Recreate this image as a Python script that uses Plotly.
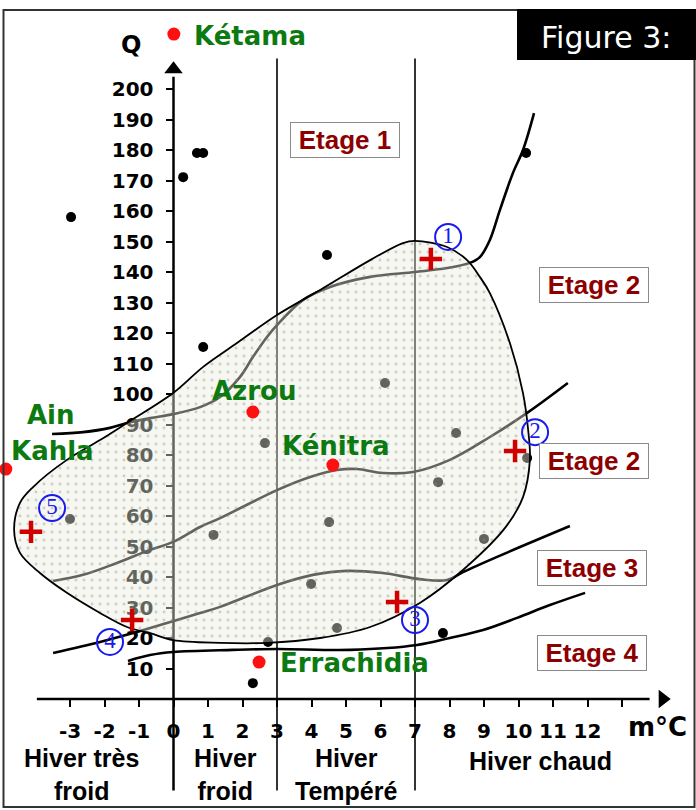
import plotly.graph_objects as go

# ---------------- data ----------------
x_tickvals = list(range(-3, 14))
x_ticktext = [str(v) for v in range(-3, 13)] + [""]
y_tickvals = list(range(10, 201, 10))

# envelope of the stations (closed curve)
env_m = [-4.62, -4.45, -4.07, -3.09, -2.13, -1.35, -0.01, 0.86, 1.84, 3.0, 4.25, 5.70, 6.65, 7.0,
         7.93, 8.51, 8.88, 9.17, 9.75, 10.13, 10.28, 10.33, 10.13, 9.61, 8.39, 7.14, 5.70, 4.25,
         2.71, 1.35, -0.01, -0.68, -1.35, -2.13, -3.09, -3.87, -4.45, -4.62]
env_q = [55.4, 64.3, 69.5, 78.4, 84.9, 90.5, 100.3, 108.9, 116.7, 125.9, 134.1, 143.9, 149.5, 150.2,
         148.2, 143.9, 138.4, 133.1, 116.7, 100.3, 88.2, 78.4, 66.2, 56.1, 42.3, 31.5, 23.6, 20.0,
         18.4, 18.4, 19.3, 21.6, 23.6, 28.2, 34.8, 41.3, 47.9, 55.4]

# boundary Etage 1 / Etage 2
lineA_m = [-3.52, -2.62, -1.84, -1.35, -0.68, -0.01, 0.77, 1.35, 1.93, 2.30, 2.71, 3.0, 3.75, 4.54,
           5.70, 7.0, 7.93, 8.59, 8.88, 9.17, 9.46, 9.84, 10.13, 10.45]
lineA_q = [86.9, 87.5, 88.9, 90.5, 92.1, 93.4, 95.7, 99.0, 105.6, 112.1, 118.7, 122.6, 130.8, 135.1,
           138.4, 140.0, 141.3, 143.0, 144.9, 150.5, 160.3, 172.5, 180.0, 192.1]
# line inside Etage 2
lineB_m = [-3.49, -2.62, -1.64, -0.68, -0.01, 0.77, 1.35, 3.0, 3.96, 4.74, 5.32, 6.07, 6.94, 8.01,
           9.17, 10.25, 11.43]
lineB_q = [38.7, 40.7, 44.6, 48.9, 51.5, 56.4, 59.3, 68.5, 72.8, 75.1, 75.4, 74.1, 74.4, 78.4,
           85.9, 93.8, 103.6]
# boundary Etage 2 / Etage 3
lineC_m = [-3.49, -2.13, -1.17, -0.19, 0.77, 1.35, 3.0, 4.04, 5.03, 6.07, 7.14, 7.93, 8.39, 9.38, 11.49]
lineC_q = [15.1, 18.7, 21.6, 24.9, 28.2, 30.2, 37.4, 40.7, 42.0, 41.3, 39.3, 39.0, 41.6, 46.6, 56.7]
# boundary Etage 3 / Etage 4
lineD_m = [-1.32, -0.68, -0.01, 1.72, 3.0, 5.12, 7.06, 8.01, 8.97, 9.96, 10.91, 11.93]
lineD_q = [12.5, 14.4, 15.4, 16.1, 16.4, 16.1, 17.7, 20.0, 22.6, 26.6, 30.8, 34.8]

# other stations (black dots)
dots_m = [-2.97, 0.28, 0.68, 0.86, 0.86, 4.45, 10.22, 7.81, 2.30,
          -3.0, 2.65, 6.13, 1.16, 4.51, 3.99, 4.74, 2.74, 8.19, 7.67, 9.0, 10.25]
dots_q = [158.0, 171.1, 179.0, 179.0, 115.4, 145.6, 179.0, 21.6, 5.2,
          59.0, 83.9, 103.6, 53.8, 58.0, 37.7, 23.3, 18.7, 87.2, 71.1, 52.5, 79.0]

# named stations (red)
station_names = ["Kétama", "Azrou", "Kénitra", "Errachidia", "Ain Kahla"]
station_m = [0.01, 2.30, 4.62, 2.48, -4.86]
station_q = [218.0, 94.1, 76.7, 12.1, 75.4]

# red crosses
cross_m = [7.46, 9.90, 6.48, -1.20, -4.13]
cross_q = [144.3, 81.3, 31.8, 25.9, 54.8]

# circled numbers
num_labels = ["1", "2", "3", "4", "5"]
num_m = [7.96, 10.48, 7.0, -1.84, -3.52]
num_q = [151.5, 87.5, 25.9, 18.7, 62.6]

etage_labels = ["Etage 1", "Etage 2", "Etage 2", "Etage 3", "Etage 4"]
winter_labels = ["Hiver très<br>froid", "Hiver<br>froid", "Hiver<br>Tempéré", "Hiver chaud"]

# ---------------- figure ----------------
W, H = 696, 810
X0, XS = 173.5, 34.5     # pixel of m=0 and px per unit
Y0, YS = 699.0, 3.05     # pixel of Q=0 and px per unit
x_range = [-X0 / XS, (W - X0) / XS]
y_range = [-(H - Y0) / YS, Y0 / YS]

BOLD = dict(family="DejaVu Sans", weight="bold")
GREEN = "#0c7a10"
DARKRED = "#8c0000"
BLUE = "#1a1aee"

fig = go.Figure()

curve_style = dict(color="black", width=2.6, shape="spline", smoothing=1.0)
for mx, qy in [(lineA_m, lineA_q), (lineB_m, lineB_q), (lineC_m, lineC_q), (lineD_m, lineD_q)]:
    fig.add_trace(go.Scatter(x=mx, y=qy, mode="lines", line=curve_style, hoverinfo="skip"))

fig.add_trace(go.Scatter(x=dots_m, y=dots_q, mode="markers",
                         marker=dict(color="black", size=10, symbol="circle"), hoverinfo="skip"))

# envelope on top with semi-transparent stippled fill
fig.add_trace(go.Scatter(
    x=env_m, y=env_q, mode="lines", fill="toself",
    fillcolor="rgba(230,236,220,0.42)",
    fillpattern=dict(shape=".", fgcolor="#8a8a8a", fgopacity=0.38,
                     bgcolor="rgba(230,236,220,0.42)", size=8, solidity=0.1),
    line=dict(color="black", width=1.8, shape="spline", smoothing=1.0),
    hoverinfo="skip"))

# red station points
fig.add_trace(go.Scatter(x=station_m, y=station_q, mode="markers",
                         marker=dict(color="#ff1010", size=13), hoverinfo="skip"))
# red crosses
fig.add_trace(go.Scatter(x=cross_m, y=cross_q, mode="markers",
                         marker=dict(symbol="cross-thin", size=16,
                                     line=dict(color="#d00000", width=4.5)),
                         hoverinfo="skip"))
# circled numbers
fig.add_trace(go.Scatter(x=num_m, y=num_q, mode="markers+text", text=num_labels,
                         textposition="middle center",
                         textfont=dict(family="Liberation Serif", size=23, color=BLUE),
                         marker=dict(symbol="circle-open", size=26, color=BLUE,
                                     line=dict(color=BLUE, width=2)),
                         hoverinfo="skip"))
# axis arrow heads
fig.add_trace(go.Scatter(x=[0, 14.18], y=[206.5, 0], mode="markers",
                         marker=dict(symbol=["triangle-up", "triangle-right"], size=16, color="black"),
                         hoverinfo="skip"))

# ---------------- shapes ----------------
shapes = [
    dict(type="line", x0=0, x1=0, y0=-30, y1=204, line=dict(color="black", width=2.5), layer="below"),
    dict(type="line", x0=-3.96, x1=13.8, y0=0, y1=0, line=dict(color="black", width=2.5), layer="below"),
    dict(type="line", x0=3, x1=3, y0=-30, y1=210, line=dict(color="black", width=1.6), layer="below"),
    dict(type="line", x0=7, x1=7, y0=-30, y1=210, line=dict(color="black", width=1.6), layer="below"),
    # outer frame
    dict(type="rect", xref="paper", yref="paper", x0=3.5 / W, x1=694.5 / W, y0=1 - 807 / H, y1=1 - 10 / H,
         line=dict(color="#333333", width=2), layer="above"),
    # "Figure 3:" black box
    dict(type="rect", xref="paper", yref="paper", x0=517 / W, x1=1.0, y0=1 - 60 / H, y1=1 - 9 / H,
         fillcolor="black", line=dict(width=0), layer="above"),
]

# ---------------- annotations ----------------
ann = []
def txt(x, y, s, size, color, xanchor="center", family="DejaVu Sans", weight="bold", **kw):
    d = dict(x=x, y=y, text=s, showarrow=False, xanchor=xanchor, yanchor="middle",
             font=dict(family=family, size=size, color=color, weight=weight))
    d.update(kw)
    ann.append(d)

txt(-1.23, 214.5, "Q", 24, "black")
txt(14.04, -9.3, "m°C", 26, "black")

# station names
txt(0.54, 217.5, station_names[0], 26, GREEN, xanchor="left")
txt(2.33, 101.0, station_names[1], 26, GREEN)
txt(4.71, 82.8, station_names[2], 26, GREEN)
txt(3.03, 11.8, station_names[3], 26, GREEN, xanchor="left")
txt(-3.55, 93.2, "Ain", 26, GREEN)
txt(-3.50, 81.2, "Kahla", 26, GREEN)

# Etage boxes
etage_pos = [(4.97, 183.3), (12.19, 135.7), (12.19, 78.0), (12.13, 43.0), (12.13, 15.1)]
for lab, (ex, ey) in zip(etage_labels, etage_pos):
    txt(ex, ey, lab, 26, DARKRED, family="Liberation Sans", bgcolor="white",
        bordercolor="#8a8a8a", borderwidth=1, borderpad=2, width=104, height=30)

# winter categories
winter_pos = [(-2.68, -24.6), (1.52, -24.6), (5.0, -24.6), (10.65, -20.3)]
for lab, (wx, wy) in zip(winter_labels, winter_pos):
    txt(wx, wy, lab, 25, "black", family="Liberation Sans")

# Figure title
txt(606 / W, 1 - 37 / H, "Figure 3:", 30, "white", xref="paper", yref="paper", weight="normal")

fig.update_layout(
    width=W, height=H, margin=dict(l=0, r=0, t=0, b=0),
    paper_bgcolor="white", plot_bgcolor="white", showlegend=False,
    shapes=shapes, annotations=ann,
    xaxis=dict(range=x_range, anchor="free", position=(H - Y0) / H, side="bottom",
               tickvals=x_tickvals, ticktext=x_ticktext, ticks="outside", ticklen=7,
               tickwidth=2, tickcolor="black", showgrid=False, zeroline=False, showline=False,
               tickfont=dict(size=20, color="black", **BOLD), layer="below traces",
               ticklabelstandoff=7, fixedrange=True),
    yaxis=dict(range=y_range, anchor="free", position=X0 / W, side="left",
               tickvals=y_tickvals, ticks="outside", ticklen=8,
               tickwidth=2, tickcolor="black", showgrid=False, zeroline=False, showline=False,
               tickfont=dict(size=20, color="black", **BOLD), layer="below traces",
               ticklabelstandoff=8, fixedrange=True),
)

fig.write_html("out.html", config={"displayModeBar": False},
               post_script="document.body.style.margin='0';document.body.style.overflow='hidden';")
